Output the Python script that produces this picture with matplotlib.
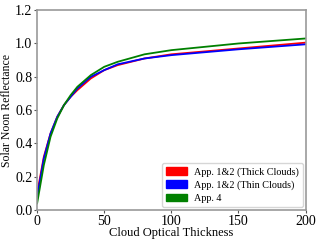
import numpy as np
import matplotlib.pyplot as plt
from matplotlib.patches import Patch

plt.rcParams['font.family'] = ['Liberation Serif', 'DejaVu Serif']

cot = [0, 5, 10, 15, 20, 25, 30, 40, 50, 60, 80, 100, 150, 200]
thick = [0.10, 0.32, 0.46, 0.56, 0.63, 0.68, 0.72, 0.79, 0.84, 0.87, 0.91, 0.935, 0.97, 1.005]
thin = [0.08, 0.31, 0.46, 0.56, 0.63, 0.68, 0.73, 0.80, 0.84, 0.875, 0.91, 0.93, 0.965, 0.995]
app4 = [0.04, 0.27, 0.44, 0.55, 0.63, 0.69, 0.74, 0.81, 0.86, 0.89, 0.935, 0.96, 1.0, 1.03]

fig, ax = plt.subplots(figsize=(3.2, 2.42), dpi=100)
fig.subplots_adjust(left=0.116, right=0.955, top=0.958, bottom=0.132)

ax.plot(cot, thick, color='red', linewidth=1.3)
ax.plot(cot, thin, color='blue', linewidth=1.3)
ax.plot(cot, app4, color='green', linewidth=1.3)

ax.set_xlim(0, 200)
ax.set_ylim(0, 1.2)
ax.set_xticks([0, 50, 100, 150, 200])
ax.set_yticks([0.0, 0.2, 0.4, 0.6, 0.8, 1.0, 1.2])
ax.yaxis.set_major_formatter(plt.FormatStrFormatter('%.1f'))
ax.tick_params(labelsize=10, length=2.5, pad=1, color='#555555')
for s in ax.spines.values():
    s.set_color('#999999')
    s.set_linewidth(1.2)

ax.set_xlabel('Cloud Optical Thickness', fontsize=9, labelpad=-1)
ax.set_ylabel('Solar Noon Reflectance', fontsize=8.5, labelpad=1)

handles = [Patch(color='red', label='App. 1&2 (Thick Clouds)'),
           Patch(color='blue', label='App. 1&2 (Thin Clouds)'),
           Patch(color='green', label='App. 4')]
ax.legend(handles=handles, loc='lower right', fontsize=7.3, handlelength=2.0,
          handleheight=0.8, borderpad=0.4, labelspacing=0.35, handletextpad=0.7,
          borderaxespad=0.3)

fig.savefig('out.png', dpi=100)
